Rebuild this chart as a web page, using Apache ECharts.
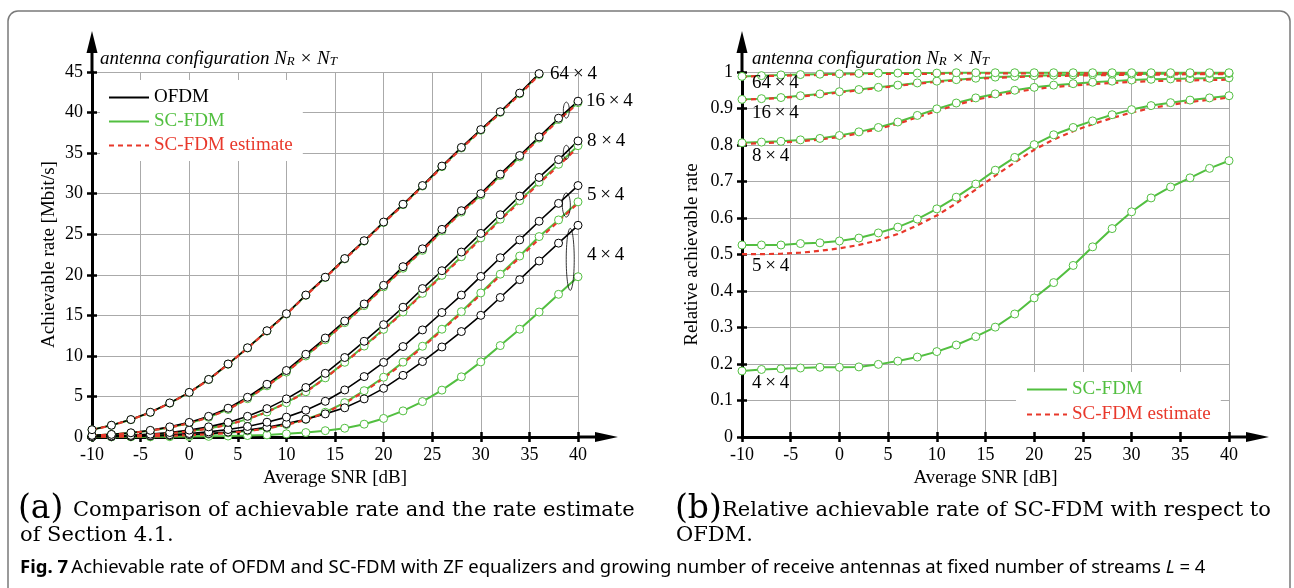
<!DOCTYPE html>
<html>
<head>
<meta charset="UTF-8" />
<title>Fig. 7 - OFDM vs SC-FDM achievable rate</title>
<script src="https://cdn.jsdelivr.net/npm/echarts@6/dist/echarts.min.js"></script>
<style>
  html, body { margin: 0; padding: 0; background: #fff; }
  #chart { width: 1294px; height: 588px; }
</style>
</head>
<body>
<div id="chart"></div>
<script>
// average SNR in dB, one marker every 2 dB
const snr = [-10,-8,-6,-4,-2,0,2,4,6,8,10,12,14,16,18,20,22,24,26,28,30,32,34,36,38,40];

// (a) achievable rate [Mbit/s]; 64x4 stops at 36 dB
const ofdm64  = [0.9,1.45,2.15,3.05,4.2,5.5,7.1,9.0,11.0,13.1,15.2,17.5,19.7,22.0,24.2,26.5,28.7,31.0,33.4,35.7,37.9,40.1,42.4,44.8];
const scfdm64 = [0.89,1.44,2.13,3.03,4.17,5.47,7.07,8.97,10.97,13.06,15.15,17.47,19.66,21.96,24.15,26.45,28.64,30.94,33.33,35.63,37.82,40.02,42.32,44.71];
const est64   = [0.89,1.43,2.13,3.02,4.17,5.46,7.06,8.96,10.95,13.03,15.12,17.43,19.62,21.91,24.1,26.39,28.59,30.88,33.27,35.56,37.75,39.94,42.23,44.62];

const ofdm16  = [0.2,0.32,0.52,0.82,1.25,1.8,2.55,3.55,4.9,6.5,8.2,10.2,12.2,14.3,16.4,18.7,21.0,23.2,25.6,27.9,30.0,32.4,34.7,37.0,39.3,41.4];
const scfdm16 = [0.19,0.3,0.48,0.77,1.18,1.7,2.43,3.4,4.72,6.31,8.0,9.99,11.99,14.1,16.2,18.51,20.81,23.01,25.42,27.73,29.82,32.24,34.53,36.85,39.14,41.23];
const est16   = [0.18,0.3,0.48,0.77,1.17,1.7,2.42,3.39,4.71,6.29,7.98,9.97,11.97,14.07,16.17,18.48,20.77,22.97,25.37,27.68,29.76,32.17,34.46,36.78,39.06,41.15];

const ofdm8   = [0.07,0.12,0.2,0.35,0.55,0.85,1.25,1.8,2.55,3.5,4.7,6.1,7.85,9.8,11.8,13.85,16.0,18.3,20.5,22.8,25.1,27.4,29.7,32.0,34.2,36.5];
const scfdm8  = [0.06,0.1,0.16,0.28,0.45,0.7,1.05,1.53,2.2,3.08,4.23,5.58,7.29,9.21,11.21,13.27,15.42,17.71,19.93,22.23,24.55,26.85,29.14,31.42,33.62,35.92];
const est8    = [0.06,0.1,0.16,0.28,0.45,0.7,1.04,1.52,2.19,3.07,4.2,5.55,7.25,9.16,11.15,13.2,15.34,17.62,19.82,22.12,24.42,26.72,28.99,31.26,33.45,35.73];

const ofdm5   = [0.04,0.07,0.11,0.18,0.28,0.43,0.63,0.92,1.3,1.82,2.45,3.3,4.4,5.8,7.45,9.2,11.15,13.2,15.35,17.5,19.8,22.1,24.3,26.6,28.8,31.0];
const scfdm5  = [0.02,0.04,0.06,0.1,0.15,0.23,0.34,0.51,0.75,1.09,1.53,2.17,3.05,4.24,5.71,7.37,9.23,11.19,13.29,15.45,17.76,20.07,22.31,24.71,26.76,28.99];
const est5    = [0.02,0.04,0.06,0.09,0.14,0.22,0.33,0.5,0.72,1.06,1.49,2.11,2.98,4.15,5.6,7.24,9.09,11.06,13.16,15.3,17.6,19.91,22.11,24.42,26.61,28.83];

const ofdm4   = [0.03,0.05,0.08,0.13,0.2,0.3,0.42,0.6,0.85,1.2,1.65,2.2,2.85,3.6,4.7,6.0,7.6,9.3,11.1,13.0,15.0,17.2,19.4,21.7,23.9,26.1];
const scfdm4  = [0.01,0.01,0.02,0.02,0.04,0.06,0.08,0.12,0.18,0.26,0.39,0.55,0.78,1.08,1.58,2.29,3.22,4.37,5.78,7.42,9.26,11.27,13.29,15.41,17.59,19.76];

// (b) relative achievable rate SC-FDM / OFDM
const rel64    = [0.988,0.990,0.992,0.993,0.994,0.995,0.996,0.997,0.997,0.997,0.997,0.998,0.998,0.998,0.998,0.998,0.998,0.998,0.998,0.998,0.998,0.998,0.998,0.998,0.998,0.998];
const relEst64 = [0.987,0.989,0.990,0.991,0.992,0.993,0.994,0.995,0.995,0.995,0.995,0.996,0.996,0.996,0.996,0.996,0.996,0.996,0.996,0.996,0.996,0.996,0.996,0.996,0.996,0.996];
const rel16    = [0.925,0.927,0.930,0.935,0.940,0.946,0.952,0.958,0.964,0.970,0.975,0.979,0.983,0.986,0.988,0.990,0.991,0.992,0.993,0.994,0.994,0.995,0.995,0.996,0.996,0.996];
const relEst16 = [0.924,0.926,0.929,0.933,0.938,0.944,0.950,0.956,0.962,0.968,0.973,0.977,0.981,0.984,0.986,0.988,0.989,0.990,0.991,0.992,0.992,0.993,0.993,0.994,0.994,0.994];
const rel8     = [0.806,0.808,0.810,0.814,0.818,0.826,0.836,0.848,0.863,0.881,0.899,0.915,0.929,0.940,0.950,0.958,0.964,0.968,0.972,0.975,0.978,0.980,0.981,0.982,0.983,0.984];
const relEst8  = [0.803,0.805,0.807,0.810,0.815,0.822,0.832,0.844,0.858,0.876,0.893,0.910,0.924,0.935,0.945,0.953,0.959,0.963,0.967,0.970,0.973,0.975,0.976,0.977,0.978,0.979];
const rel5     = [0.526,0.526,0.526,0.530,0.532,0.537,0.545,0.559,0.575,0.597,0.625,0.657,0.693,0.731,0.766,0.801,0.828,0.848,0.866,0.883,0.897,0.908,0.916,0.923,0.929,0.935];
const relEst5  = [0.501,0.501,0.502,0.505,0.510,0.517,0.526,0.539,0.556,0.580,0.607,0.640,0.678,0.716,0.752,0.787,0.815,0.838,0.857,0.874,0.889,0.901,0.910,0.918,0.924,0.930];
const rel4     = [0.181,0.185,0.187,0.189,0.191,0.191,0.192,0.199,0.208,0.219,0.234,0.252,0.275,0.301,0.337,0.381,0.423,0.470,0.521,0.571,0.617,0.655,0.685,0.710,0.736,0.757];

const SERIF = "'Liberation Serif', 'Times New Roman', serif";
const CM = "'DejaVu Serif', serif";
const SANS = "'Noto Sans', 'Open Sans', sans-serif";
const GREEN = '#52bf40';
const RED = '#e8382b';

const chart = echarts.init(document.getElementById('chart'));

const pairs = vals => vals.map((v, i) => [snr[i], v]);

function xAxesFor(g) {
  return [{
    type: 'value', gridIndex: g, position: 'bottom', min: -10, max: 40, interval: 5,
    name: 'Average SNR [dB]', nameLocation: 'middle', nameGap: 27,
    nameTextStyle: { fontFamily: SERIF, fontSize: 19, color: '#000' },
    axisLine: { onZero: false, lineStyle: { color: '#000', width: 3 } },
    axisTick: { length: 5, lineStyle: { color: '#000', width: 2.5 } },
    axisLabel: { fontFamily: SERIF, fontSize: 18, color: '#000', margin: 9 },
    splitLine: { show: true, lineStyle: { color: '#aaa', width: 1 } }
  }, {
    // second copy only for the inner half of the ticks
    type: 'value', gridIndex: g, position: 'bottom', min: -10, max: 40, interval: 5,
    axisLine: { show: false, onZero: false }, axisLabel: { show: false }, splitLine: { show: false },
    axisTick: { inside: true, length: 5, lineStyle: { color: '#000', width: 2.5 } }
  }];
}

function yAxesFor(g, max, interval, name, gap) {
  return [{
    type: 'value', gridIndex: g, position: 'left', min: 0, max: max, interval: interval,
    name: name, nameLocation: 'middle', nameGap: gap,
    nameTextStyle: { fontFamily: SERIF, fontSize: 19, color: '#000' },
    axisLine: { onZero: false, lineStyle: { color: '#000', width: 3 } },
    axisTick: { length: 5, lineStyle: { color: '#000', width: 2.5 } },
    axisLabel: { fontFamily: SERIF, fontSize: 18, color: '#000', margin: 9 },
    splitLine: { show: true, lineStyle: { color: '#aaa', width: 1 } }
  }, {
    type: 'value', gridIndex: g, position: 'left', min: 0, max: max, interval: interval,
    axisLine: { show: false, onZero: false }, axisLabel: { show: false }, splitLine: { show: false },
    axisTick: { inside: true, length: 5, lineStyle: { color: '#000', width: 2.5 } }
  }];
}

function curve(name, g, vals, kind) {
  const s = {
    name: name, type: 'line', xAxisIndex: g * 2, yAxisIndex: g * 2,
    data: pairs(vals), silent: true, animation: false, showAllSymbol: true
  };
  if (kind === 'ofdm') {
    s.symbol = 'circle'; s.symbolSize = 8;
    s.lineStyle = { color: '#000', width: 1.6 };
    s.itemStyle = { color: '#fff', borderColor: '#000', borderWidth: 1 };
  } else if (kind === 'sc') {
    s.symbol = 'circle'; s.symbolSize = 8;
    s.lineStyle = { color: GREEN, width: 2 };
    s.itemStyle = { color: '#fff', borderColor: GREEN, borderWidth: 1 };
  } else {
    s.symbol = 'none';
    s.lineStyle = { color: RED, width: 2.2, type: [5, 4] };
  }
  return s;
}

// legend-only entries
const legendSeries = [
  { name: 'OFDM', type: 'line', xAxisIndex: 0, yAxisIndex: 0, data: [], symbol: 'none', lineStyle: { color: '#000', width: 2.2 } },
  { name: 'SC-FDM', type: 'line', xAxisIndex: 0, yAxisIndex: 0, data: [], symbol: 'none', lineStyle: { color: GREEN, width: 2.2 } },
  { name: 'SC-FDM estimate', type: 'line', xAxisIndex: 0, yAxisIndex: 0, data: [], symbol: 'none', lineStyle: { color: RED, width: 2.4, type: [5, 4] } }
];

const series = legendSeries.concat([
  curve('SC 4x4', 0, scfdm4, 'sc'),
  curve('SC 5x4', 0, scfdm5, 'sc'),
  curve('SC 8x4', 0, scfdm8, 'sc'),
  curve('SC 16x4', 0, scfdm16, 'sc'),
  curve('SC 64x4', 0, scfdm64, 'sc'),
  curve('OFDM 4x4', 0, ofdm4, 'ofdm'),
  curve('OFDM 5x4', 0, ofdm5, 'ofdm'),
  curve('OFDM 8x4', 0, ofdm8, 'ofdm'),
  curve('OFDM 16x4', 0, ofdm16, 'ofdm'),
  curve('OFDM 64x4', 0, ofdm64, 'ofdm'),
  curve('Est 5x4', 0, est5, 'est'),
  curve('Est 8x4', 0, est8, 'est'),
  curve('Est 16x4', 0, est16, 'est'),
  curve('Est 64x4', 0, est64, 'est'),
  curve('Rel 4x4', 1, rel4, 'sc'),
  curve('Rel 5x4', 1, rel5, 'sc'),
  curve('Rel 8x4', 1, rel8, 'sc'),
  curve('Rel 16x4', 1, rel16, 'sc'),
  curve('Rel 64x4', 1, rel64, 'sc'),
  curve('RelEst 5x4', 1, relEst5, 'est'),
  curve('RelEst 8x4', 1, relEst8, 'est'),
  curve('RelEst 16x4', 1, relEst16, 'est'),
  curve('RelEst 64x4', 1, relEst64, 'est')
]);

const legendText = { fontFamily: SERIF, fontSize: 19 };

chart.setOption({
  animation: false,
  backgroundColor: '#fff',
  grid: [
    { left: 92, right: 716, top: 72, bottom: 151, outerBoundsMode: 'none' },
    { left: 742, right: 65, top: 72, bottom: 151, outerBoundsMode: 'none' }
  ],
  xAxis: xAxesFor(0).concat(xAxesFor(1)),
  yAxis: yAxesFor(0, 45, 5, 'Achievable rate [Mbit/s]', 33)
    .concat(yAxesFor(1, 1, 0.1, 'Relative achievable rate', 40)),
  legend: [{
    left: 100, top: 80, orient: 'vertical', selectedMode: false,
    backgroundColor: '#fff', padding: [8, 10, 6, 8],
    itemWidth: 40, itemHeight: 14, itemGap: 5, textStyle: legendText,
    itemStyle: { opacity: 0 },
    data: [
      { name: 'OFDM', textStyle: { color: '#000' } },
      { name: 'SC-FDM', textStyle: { color: GREEN } },
      { name: 'SC-FDM estimate', textStyle: { color: RED } }
    ]
  }, {
    left: 1016, top: 372, orient: 'vertical', selectedMode: false,
    backgroundColor: '#fff', padding: [8, 10, 8, 10],
    itemWidth: 40, itemHeight: 14, itemGap: 6, textStyle: legendText,
    itemStyle: { opacity: 0 },
    data: [
      { name: 'SC-FDM', textStyle: { color: GREEN } },
      { name: 'SC-FDM estimate', textStyle: { color: RED } }
    ]
  }],
  series: series
});

// decorations placed from the axes
const px = (g, x, y) => chart.convertToPixel({ xAxisIndex: g * 2, yAxisIndex: g * 2 }, [x, y]);

function arrows(g, ymax) {
  const o = px(g, -10, 0), top = px(g, -10, ymax), end = px(g, 40, 0);
  const st = { stroke: '#000', lineWidth: 3 };
  return [
    { type: 'line', shape: { x1: o[0], y1: top[1], x2: o[0], y2: top[1] - 20 }, style: st },
    { type: 'polygon', shape: { points: [[o[0] - 5.5, top[1] - 19], [o[0] + 5.5, top[1] - 19], [o[0], top[1] - 41]] }, style: { fill: '#000' } },
    { type: 'line', shape: { x1: end[0], y1: o[1], x2: end[0] + 18, y2: o[1] }, style: st },
    { type: 'polygon', shape: { points: [[end[0] + 17, o[1] - 5], [end[0] + 17, o[1] + 5], [end[0] + 40, o[1]]] }, style: { fill: '#000' } }
  ];
}

function antennaText(g, ymax, dx) {
  const t = px(g, -10, ymax);
  return {
    type: 'text', z: 10,
    style: {
      x: t[0] + dx, y: t[1] - 13, verticalAlign: 'middle',
      text: '{i|antenna configuration N}{s|R}{i| × N}{s|T}',
      rich: {
        i: { fontFamily: SERIF, fontStyle: 'italic', fontSize: 19, fill: '#000' },
        s: { fontFamily: SERIF, fontStyle: 'italic', fontSize: 13, fill: '#000', verticalAlign: 'bottom', padding: [6, 0, 0, 0] }
      }
    }
  };
}

function cfgLabel(g, x, y, dx, text) {
  const p = px(g, x, y);
  return {
    type: 'text', z: 10,
    style: { x: p[0] + dx, y: p[1], text: text, fontFamily: SERIF, fontSize: 19, fill: '#000', verticalAlign: 'middle' }
  };
}

function ring(x, y, rx, ry) {
  const p = px(0, x, y);
  return { type: 'ellipse', z: 10, shape: { cx: p[0], cy: p[1], rx: rx, ry: ry }, style: { fill: 'none', stroke: '#000', lineWidth: 0.8 } };
}

function capText(x, y, text, font, size) {
  return { type: 'text', style: { x: x, y: y, text: text, fontFamily: font, fontSize: size, fill: '#000', verticalAlign: 'middle' } };
}

const TS = '\u2009';

const graphics = [
  { type: 'rect', z: -1, shape: { x: 8, y: 11, width: 1282, height: 640, r: 10 }, style: { fill: 'none', stroke: '#7a7a7a', lineWidth: 1.5 } }
].concat(arrows(0, 45), arrows(1, 1), [
  antennaText(0, 45, 8),
  antennaText(1, 1, 10),
  cfgLabel(0, 36, 44.8, 11, '64' + TS + '×' + TS + '4'),
  cfgLabel(0, 40, 41.4, 8, '16' + TS + '×' + TS + '4'),
  cfgLabel(0, 40, 36.5, 9, '8 ×' + TS + '4'),
  cfgLabel(0, 40, 29.8, 9, '5' + TS + '×' + TS + '4'),
  cfgLabel(0, 40, 22.4, 9, '4' + TS + '×' + TS + '4'),
  cfgLabel(1, -10, 0.970, 10, '64' + TS + '×' + TS + '4'),
  cfgLabel(1, -10, 0.888, 10, '16' + TS + '×' + TS + '4'),
  cfgLabel(1, -10, 0.769, 10, '8' + TS + '×' + TS + '4'),
  cfgLabel(1, -10, 0.469, 10, '5' + TS + '×' + TS + '4'),
  cfgLabel(1, -10, 0.147, 10, '4' + TS + '×' + TS + '4'),
  ring(38.8, 40.3, 3, 8),
  ring(38.8, 35.1, 3, 7),
  ring(38.8, 28.6, 4, 12),
  ring(39.2, 21.9, 4, 31),
  capText(18, 509, '(a)', CM, 33),
  capText(73, 511, 'Comparison of achievable rate and the rate estimate', CM, 21),
  capText(20, 536, 'of Section 4.1.', CM, 21),
  capText(675, 509, '(b)', CM, 33),
  capText(722, 511, 'Relative achievable rate of SC-FDM with respect to', CM, 21),
  capText(676, 536, 'OFDM.', CM, 21),
  {
    type: 'text',
    style: {
      x: 20, y: 568, verticalAlign: 'middle',
      text: '{b|Fig. 7} {r|Achievable rate of OFDM and SC-FDM with ZF equalizers and growing number of receive antennas at fixed number of streams }{it|L}{r| = 4}',
      rich: {
        b: { fontFamily: SANS, fontWeight: 'bold', fontSize: 18.5, fill: '#000' },
        r: { fontFamily: SANS, fontSize: 18.5, fill: '#000' },
        it: { fontFamily: SANS, fontStyle: 'italic', fontSize: 18.5, fill: '#000' }
      }
    }
  }
]);

chart.setOption({ graphic: graphics });
</script>
</body>
</html>
